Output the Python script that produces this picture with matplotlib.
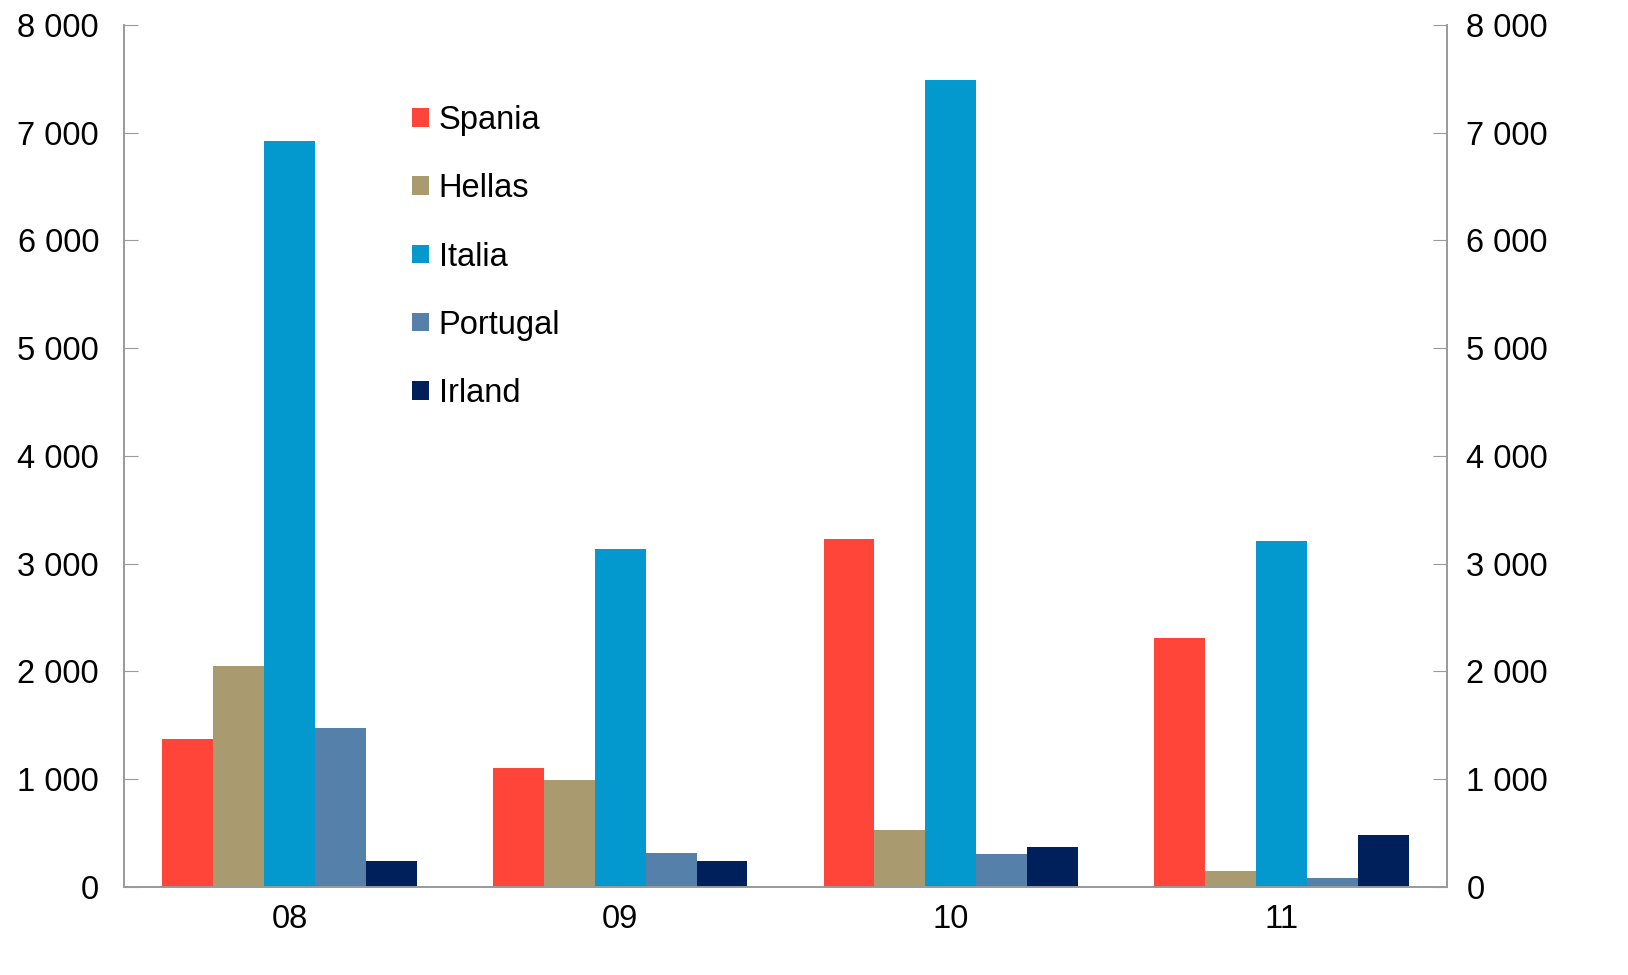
import numpy as np
import matplotlib.pyplot as plt
from matplotlib.patches import Patch
from matplotlib.ticker import FuncFormatter

plt.rcParams['font.family'] = ['Liberation Sans', 'DejaVu Sans']

years = ['08', '09', '10', '11']
spania = [1370, 1105, 3230, 2310]
hellas = [2050, 995, 530, 150]
italia = [6925, 3140, 7490, 3210]
portugal = [1475, 315, 305, 85]
irland = [240, 240, 370, 485]

series = [('Spania', spania, '#ff443a'),
          ('Hellas', hellas, '#a99b6f'),
          ('Italia', italia, '#0399cf'),
          ('Portugal', portugal, '#5480aa'),
          ('Irland', irland, '#00205b')]

fig = plt.figure(figsize=(16.28, 9.75), dpi=100)
ax = fig.add_axes([0.0762, 0.0903, 0.8126, 0.8841])

x = np.arange(len(years))
w = 0.154
for i, (name, vals, col) in enumerate(series):
    ax.bar(x + (i - 2) * w, vals, width=w, color=col, linewidth=0)

ax.set_xlim(-0.5, 3.5)
ax.set_ylim(0, 8000)
ax.set_xticks(x)
ax.set_xticklabels(years)
ax.set_yticks(range(0, 8001, 1000))

fmt = FuncFormatter(lambda v, p: f'{int(v):,}'.replace(',', ' '))
ax.yaxis.set_major_formatter(fmt)

ax2 = ax.twinx()
ax2.set_ylim(0, 8000)
ax2.set_yticks(range(0, 8001, 1000))
ax2.yaxis.set_major_formatter(fmt)

for a in (ax, ax2):
    a.spines['top'].set_visible(False)
    for s in ('left', 'right', 'bottom'):
        a.spines[s].set_color('#999999')
        a.spines[s].set_linewidth(1.2)
    a.tick_params(axis='y', direction='in', length=10, color='#999999',
                  labelsize=23.5)
ax.tick_params(axis='y', pad=18)
ax2.tick_params(axis='y', pad=14)
ax.tick_params(axis='x', length=0, labelsize=23.5, pad=12)

handles = [Patch(facecolor=c, edgecolor='none', label=n) for n, v, c in series]
ax.legend(handles=handles, loc='upper left', bbox_to_anchor=(0.218, 0.907),
          frameon=False, fontsize=23.5, handlelength=0.5, handleheight=0.5,
          handletextpad=0.3, labelspacing=1.14, borderpad=0, borderaxespad=0)

fig.savefig('out.png', dpi=100)
